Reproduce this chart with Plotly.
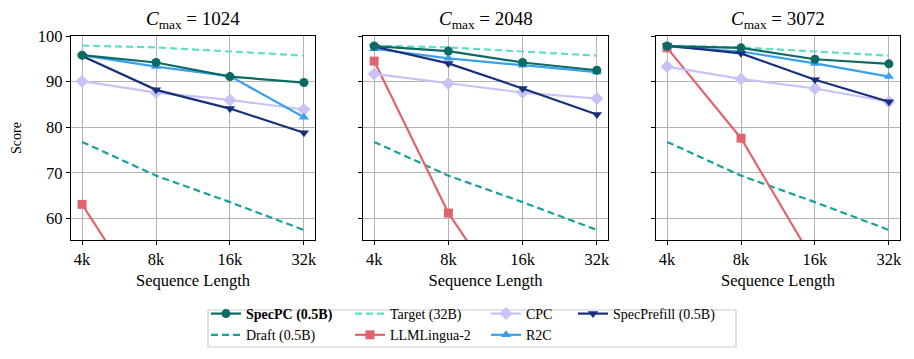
import plotly.graph_objects as go

W, H = 914, 359
seq_len = ["4k", "8k", "16k", "32k"]
cmax_titles = ["1024", "2048", "3072"]

target_32b = [97.9, 97.5, 96.6, 95.7]
draft_05b = [76.8, 69.4, 63.6, 57.5]

specpc = [[95.8, 94.2, 91.1, 89.8], [97.8, 96.7, 94.2, 92.5], [97.8, 97.4, 94.9, 93.9]]
llmlingua2 = [[63.1, 38.0, 30.0, 26.0], [94.5, 61.2, 37.0, 30.0], [97.4, 77.6, 50.2, 40.0]]
cpc = [[90.1, 87.6, 86.0, 83.9], [91.7, 89.6, 87.6, 86.3], [93.3, 90.6, 88.5, 85.6]]
r2c = [[95.8, 93.3, 91.2, 82.2], [97.2, 95.1, 93.6, 92.1], [97.7, 96.6, 94.0, 91.1]]
specprefill = [[95.6, 88.2, 84.1, 78.8], [97.7, 94.0, 88.5, 82.8], [97.9, 96.2, 90.4, 85.6]]

y_ticks = [60, 70, 80, 90, 100]

FONT = "'Liberation Serif', 'Times New Roman', Times, serif"
C_SPECPC = "#0b6b64"
C_TARGET = "#5fe0bf"
C_DRAFT = "#17a199"
C_LLML = "#e0646e"
C_CPC = "#c8c2f6"
C_R2C = "#3aa0ec"
C_SPF = "#182f7a"

px_x = [(71, 315), (363, 608), (656, 900)]
py_top, py_bot = 36, 240

fig = go.Figure()

def xd(i):
    a, b = px_x[i]
    return [a / W, b / W]

ydom = [1 - py_bot / H, 1 - py_top / H]

for i in range(3):
    xa = "x" if i == 0 else f"x{i+1}"
    ya = "y" if i == 0 else f"y{i+1}"
    show = i == 0
    series = [
        ("Target (32B)", target_32b, C_TARGET, None, "7px,4px", "legend2"),
        ("Draft (0.5B)", draft_05b, C_DRAFT, None, "7px,4px", "legend"),
        ("LLMLingua-2", llmlingua2[i], C_LLML, "square", None, "legend2"),
        ("CPC", cpc[i], C_CPC, "diamond", None, "legend3"),
        ("R2C", r2c[i], C_R2C, "triangle-up", None, "legend3"),
        ("SpecPrefill (0.5B)", specprefill[i], C_SPF, "triangle-down", None, "legend4"),
        ("<b>SpecPC (0.5B)</b>", specpc[i], C_SPECPC, "circle", None, "legend"),
    ]
    for name, vals, col, sym, dash, leg in series:
        kw = dict(x=seq_len, y=vals, name=name, xaxis=xa, yaxis=ya,
                  showlegend=show, legend=leg,
                  line=dict(color=col, width=2.2, dash=dash if dash else "solid"))
        if sym:
            kw["mode"] = "lines+markers"
            kw["marker"] = dict(symbol=sym, size=9 if sym != "diamond" else 10, color=col)
        else:
            kw["mode"] = "lines"
        kw["legendrank"] = 1 if name.startswith("<b>") else 2
        fig.add_trace(go.Scatter(**kw))

    axis_common = dict(showline=True, linecolor="black", linewidth=1.2, mirror=True,
                       showgrid=True, gridcolor="#b3b3b3", gridwidth=1,
                       ticks="outside", ticklen=4, tickcolor="black", automargin=False,
                       tickfont=dict(family=FONT, size=16.5, color="black"), zeroline=False)
    fig.layout[f"xaxis{'' if i == 0 else i+1}"] = dict(
        axis_common, domain=xd(i), anchor=ya, type="category", range=[-0.15, 3.15],
        title=dict(text="Sequence Length", font=dict(family=FONT, size=16.5, color="black"), standoff=6))
    yax = dict(axis_common, domain=ydom, anchor=xa, range=[55.3, 100], tickvals=y_ticks,
               showticklabels=(i == 0))
    if i == 0:
        yax["title"] = dict(text="Score", font=dict(family=FONT, size=14, color="black"), standoff=12)
    fig.layout[f"yaxis{'' if i == 0 else i+1}"] = yax
    a, b = px_x[i]
    fig.add_annotation(x=(a + b) / 2 / W, y=1 - 20 / H, xref="paper", yref="paper",
                       text=f"<i>C</i><sub>max</sub> = {cmax_titles[i]}", showarrow=False,
                       font=dict(family=FONT, size=19, color="black"),
                       xanchor="center", yanchor="middle")

fig.add_shape(type="rect", xref="paper", yref="paper", x0=208 / W, x1=736 / W,
              y0=1 - 347 / H, y1=1 - 310 / H, line=dict(color="#cccccc", width=1.2),
              fillcolor="white", layer="below")

leg_font = dict(family=FONT, size=14, color="black")
leg_common = dict(orientation="v", yanchor="top", xanchor="left", y=1 - 298 / H,
                  bgcolor="rgba(0,0,0,0)", font=leg_font, itemwidth=30,
                  tracegroupgap=0, traceorder="normal", itemclick=False)
fig.update_layout(
    width=W, height=H, margin=dict(l=0, r=0, t=0, b=0, autoexpand=False),
    paper_bgcolor="white", plot_bgcolor="white",
    legend=dict(leg_common, x=206 / W),
    legend2=dict(leg_common, x=350 / W),
    legend3=dict(leg_common, x=486 / W),
    legend4=dict(leg_common, x=573 / W),
)

fig.write_html("out.html", config={"displayModeBar": False},
               post_script="document.body.style.margin='0';document.body.style.padding='0';")
